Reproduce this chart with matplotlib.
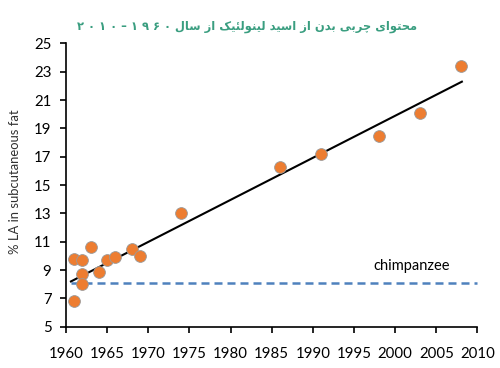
import matplotlib
matplotlib.use('Agg')
import matplotlib.pyplot as plt

years = [1961, 1961, 1962, 1962, 1962, 1963, 1964, 1965, 1966, 1968, 1969,
         1974, 1986, 1991, 1998, 2003, 2008]
la_pct = [6.8, 9.8, 9.7, 8.7, 8.0, 10.6, 8.9, 9.7, 9.9, 10.5, 10.0,
          13.0, 16.3, 17.2, 18.45, 20.1, 23.4]

trend_years = [1960.6, 2008.1]
trend_values = [8.2, 22.3]

chimp_years = [1960.6, 2010]
chimp_value = [8.1, 8.1]

x_ticks = list(range(1960, 2011, 5))
y_ticks = list(range(5, 26, 2))

title_words = 'محتوای چربی بدن از اسید لینولئیک از سال'
title_years = '۲ ۰ ۱ ۰ – ۱ ۹ ۶ ۰'

# matplotlib has no arabic shaping, so pick presentation forms by hand
# (isolated, final, initial, medial); None = letter does not join to the left
forms = {
    'ا': ('\uFE8D', '\uFE8E', None, None),
    'ب': ('\uFE8F', '\uFE90', '\uFE91', '\uFE92'),
    'ت': ('\uFE95', '\uFE96', '\uFE97', '\uFE98'),
    'ح': ('\uFEA1', '\uFEA2', '\uFEA3', '\uFEA4'),
    'د': ('\uFEA9', '\uFEAA', None, None),
    'ر': ('\uFEAD', '\uFEAE', None, None),
    'ز': ('\uFEAF', '\uFEB0', None, None),
    'س': ('\uFEB1', '\uFEB2', '\uFEB3', '\uFEB4'),
    'ل': ('\uFEDD', '\uFEDE', '\uFEDF', '\uFEE0'),
    'م': ('\uFEE1', '\uFEE2', '\uFEE3', '\uFEE4'),
    'ن': ('\uFEE5', '\uFEE6', '\uFEE7', '\uFEE8'),
    'و': ('\uFEED', '\uFEEE', None, None),
    'ئ': ('\uFE89', '\uFE8A', '\uFE8B', '\uFE8C'),
    'ی': ('\uFBFC', '\uFBFD', '\uFBFE', '\uFBFF'),
    'چ': ('\uFB7A', '\uFB7B', '\uFB7C', '\uFB7D'),
    'ک': ('\uFB8E', '\uFB8F', '\uFB90', '\uFB91'),
}


def shape(text):
    out = []
    for i, ch in enumerate(text):
        if ch not in forms:
            out.append(ch)
            continue
        prev = text[i - 1] if i > 0 else ' '
        nxt = text[i + 1] if i + 1 < len(text) else ' '
        join_prev = prev in forms and forms[prev][2] is not None
        join_next = forms[ch][2] is not None and nxt in forms
        if join_prev and join_next:
            out.append(forms[ch][3])
        elif join_prev:
            out.append(forms[ch][1])
        elif join_next:
            out.append(forms[ch][2])
        else:
            out.append(forms[ch][0])
    return ''.join(out)[::-1]


title = title_years + ' ' + shape(title_words)

plt.rcParams['font.family'] = ['Lato', 'DejaVu Sans']

fig = plt.figure(figsize=(5, 3.68), dpi=100)
ax = fig.add_axes([0.132, 0.112, 0.823, 0.770])

ax.plot(chimp_years, chimp_value, color='#4f81bd', lw=1.8,
        linestyle=(0, (3.2, 2.0)), zorder=2)
ax.plot(trend_years, trend_values, color='black', lw=1.5, zorder=3)
ax.scatter(years, la_pct, s=72, color='#ed7d31', edgecolor='#9a9a9a',
           linewidth=0.6, zorder=4)

ax.text(1997.3, 9.3, 'chimpanzee', fontsize=10.5, va='center', ha='left')

ax.set_xlim(1960, 2010)
ax.set_ylim(5, 25)
ax.set_xticks(x_ticks)
ax.set_yticks(y_ticks)
ax.tick_params(axis='both', direction='out', length=4.5, width=1.2,
               labelsize=10.8, colors='black')
ax.tick_params(axis='x', pad=10)
ax.tick_params(axis='y', pad=6)
for side in ['top', 'right']:
    ax.spines[side].set_visible(False)
for side in ['left', 'bottom']:
    ax.spines[side].set_linewidth(1.2)

fig.text(0.03, 0.507, '% LA in subcutaneous fat', rotation=90,
         fontsize=9.4, color='#303030', ha='center', va='center')

fig.text(0.495, 0.929, title, fontsize=8.3, fontweight='bold',
         color='#3a9e80', ha='center', va='center',
         family=['DejaVu Sans'])

fig.savefig('out.png', dpi=100)
